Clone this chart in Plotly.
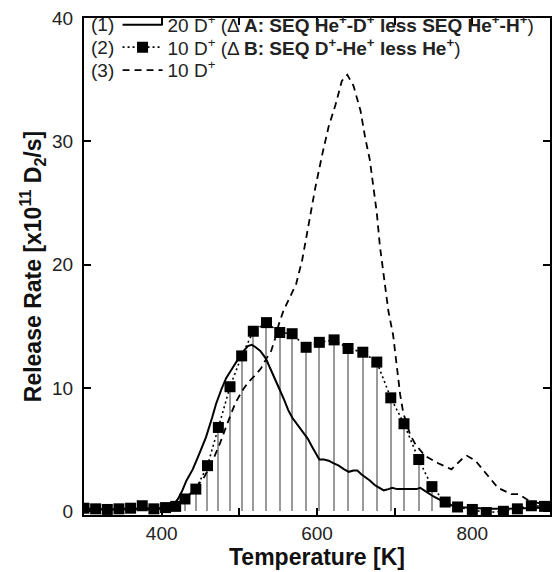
import plotly.graph_objects as go

# ---- data ----
# (1) 20 D+ (dA: SEQ He+-D+ less SEQ He+-H+)  -- solid line
t1 = [300, 320, 340, 360, 380, 400, 410, 416, 421, 426, 432, 440, 448, 457, 465, 470, 477, 483,
      490, 496, 503, 511, 516, 521, 527, 534, 540, 545, 551, 558, 563, 568, 575, 581, 588, 594,
      599, 603, 609, 615, 621, 628, 635, 641, 647, 652, 657, 662, 668, 675, 680, 686, 692, 697,
      703, 709, 716, 722, 728, 733, 738, 744, 750, 756, 762, 770, 780, 800, 820, 840, 860, 880, 900]
r1 = [0.2, 0.15, 0.15, 0.2, 0.25, 0.25, 0.35, 0.6, 1.0, 1.6, 2.5, 3.4, 4.6, 6.0, 7.6, 8.7, 9.9, 10.8,
      11.5, 12.1, 12.8, 13.4, 13.5, 13.3, 13.0, 12.4, 11.6, 10.9, 10.0, 9.0, 8.2, 7.6, 7.0, 6.5, 5.9, 5.2,
      4.6, 4.2, 4.2, 4.1, 3.9, 3.7, 3.4, 3.2, 3.3, 3.3, 3.0, 2.8, 2.5, 2.1, 1.9, 1.7, 1.8, 1.9,
      1.8, 1.8, 1.8, 1.75, 1.8, 1.9, 1.7, 1.4, 1.2, 1.0, 0.8, 0.55, 0.35, 0.25, 0.2, 0.2, 0.25, 0.3, 0.3]

# (2) 10 D+ (dB: SEQ D+-He+ less He+)  -- squares, dotted
t2 = [300, 315, 330, 345, 360, 375, 390, 405, 418, 430, 444, 459, 473, 488, 503, 518, 535, 552,
      568, 586, 603, 622, 640, 659, 677, 695, 712, 731, 748, 765, 781, 800, 818, 840, 858, 876, 893]
r2 = [0.25, 0.2, 0.15, 0.2, 0.25, 0.45, 0.2, 0.3, 0.4, 1.0, 1.8, 3.7, 6.8, 10.1, 12.6, 14.6, 15.3, 14.5,
      14.4, 13.3, 13.7, 13.9, 13.2, 12.9, 12.1, 9.2, 7.1, 4.2, 2.0, 0.75, 0.35, 0.15, -0.1, 0.0, 0.2, 0.45, 0.4]

# (3) 10 D+  -- dashed line
t3 = [300, 320, 340, 360, 380, 400, 415, 425, 435, 445, 455, 465, 475, 485, 495, 505, 512, 520, 528,
      535, 541, 546, 551, 557, 564, 573, 581, 590, 598, 607, 615, 624, 632, 639, 647, 656, 662, 668,
      673, 677, 681, 686, 692, 698, 703, 707, 711, 716, 720, 727, 739, 756, 773, 786, 793, 804, 812,
      821, 833, 850, 859, 872, 889, 900]
r3 = [0.15, 0.15, 0.1, 0.15, 0.15, 0.2, 0.3, 0.7, 1.3, 2.0, 2.8, 4.0, 5.5, 7.2, 8.8, 9.9, 10.5, 11.0, 11.6,
      12.4, 13.0, 14.0, 15.2, 16.3, 17.2, 18.4, 20.4, 23.6, 26.3, 29.0, 31.2, 33.0, 34.9, 35.4, 34.5, 32.5, 30.3, 28.5,
      26.3, 24.2, 21.5, 18.9, 16.2, 14.3, 11.5, 9.5, 8.0, 7.0, 6.2, 5.4, 4.5, 3.9, 3.4, 4.2, 4.5, 4.1, 3.5,
      2.8, 1.9, 1.4, 1.4, 0.9, 0.6, 0.5]

x_ticks = [400, 500, 600, 700, 800]
x_tick_text = ["400", "", "600", "", "800"]
y_ticks = [0, 10, 20, 30, 40]

name1 = "20 D<sup>+</sup> (Δ <b>A: SEQ He<sup>+</sup>-D<sup>+</sup> less SEQ He<sup>+</sup>-H<sup>+</sup></b>)"
name2 = "10 D<sup>+</sup> (Δ <b>B: SEQ D<sup>+</sup>-He<sup>+</sup> less He<sup>+</sup></b>)"
name3 = "10 D<sup>+</sup>"
row_labels = ["(1)", "(2)", "(3)"]

FONT = "Liberation Sans, Arial, sans-serif"

# drop lines under the squares in the main peak
drop_t = [t for t in t2 if 415 <= t <= 750]
drop_r = [r for t, r in zip(t2, r2) if 415 <= t <= 750]

fig = go.Figure()
fig.add_trace(go.Bar(x=drop_t, y=drop_r, width=1.6, marker=dict(color="#9a9a9a", line=dict(width=0)),
                     showlegend=False, hoverinfo="skip"))
fig.add_trace(go.Scatter(x=t1, y=r1, mode="lines", name=name1, legend="legend",
                         line=dict(color="black", width=2)))
fig.add_trace(go.Scatter(x=t2, y=r2, mode="lines+markers", name=name2, legend="legend2",
                         line=dict(color="black", width=1.6, dash="2px,3px"),
                         marker=dict(symbol="square", size=11, color="black")))
fig.add_trace(go.Scatter(x=t3, y=r3, mode="lines", name=name3, legend="legend3",
                         line=dict(color="black", width=1.8, dash="7px,5px")))

row_y = [0.986, 0.941, 0.895]
for lab, yy in zip(row_labels, row_y):
    fig.add_annotation(text=lab, xref="paper", yref="paper", x=0.011, y=yy,
                       xanchor="left", yanchor="middle", showarrow=False,
                       font=dict(family=FONT, size=19, color="#222"))

leg_common = dict(x=0.072, xanchor="left", yanchor="middle", bgcolor="rgba(0,0,0,0)",
                  font=dict(family=FONT, size=19, color="#222"), itemwidth=40,
                  borderwidth=0)

fig.update_layout(
    width=558, height=572,
    margin=dict(l=84, r=6, t=16, b=55),
    paper_bgcolor="white", plot_bgcolor="white",
    font=dict(family=FONT, size=19, color="#222"),
    bargap=0,
    legend=dict(y=row_y[0], **leg_common),
    legend2=dict(y=row_y[1], **leg_common),
    legend3=dict(y=row_y[2], **leg_common),
    xaxis=dict(range=[300, 900], tickvals=x_ticks, ticktext=x_tick_text, ticks="inside",
               ticklen=7, tickwidth=1.5, tickcolor="black", showline=True, linewidth=2,
               linecolor="black", mirror="ticks", showgrid=False, zeroline=False,
               title=dict(text="<b>Temperature [K]</b>", font=dict(family=FONT, size=23, color="#111"),
                          standoff=6),
               tickfont=dict(family=FONT, size=19, color="#222")),
    yaxis=dict(range=[-0.3, 40], tickvals=y_ticks, ticks="inside", ticklen=7, tickwidth=1.5,
               tickcolor="black", showline=True, linewidth=2, linecolor="black", mirror="ticks",
               showgrid=False, zeroline=False, ticklabelstandoff=5,
               title=dict(text="<b>Release Rate [x10<sup>11</sup> D<sub>2</sub>/s]</b>",
                          font=dict(family=FONT, size=23, color="#111"), standoff=4),
               tickfont=dict(family=FONT, size=19, color="#222")),
)

fig.write_html("out.html")
